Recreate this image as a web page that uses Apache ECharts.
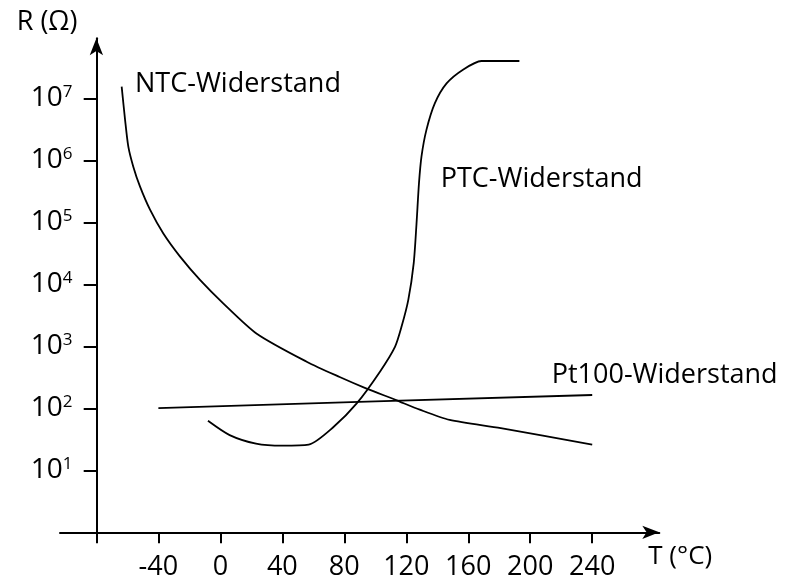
<!DOCTYPE html>
<html>
<head>
<meta charset="utf-8">
<script src="https://cdn.jsdelivr.net/npm/echarts@6.0.0/dist/echarts.min.js"></script>
<style>
html, body { margin: 0; padding: 0; background: #fff; }
#chart { width: 790px; height: 575px; }
</style>
</head>
<body>
<div id="chart"></div>
<script>
// Kennlinien (Temperatur in °C, Widerstand in Ohm)
var ntcT = [-63.7, -61.5, -59.4, -56.2, -51.9, -45.4, -36.8, -26, -13, 2, 23.5, 56, 77, 94, 113, 128.7, 148, 181, 240];
var ntcR = [1.55e7, 4.5e6, 1.66e6, 7.9e5, 3.8e5, 1.6e5, 6.6e4, 2.8e4, 1.17e4, 4900, 1600, 560, 320, 210, 137, 95, 65, 48, 26];
var ptcT = [-8, 6, 23, 40, 57, 73, 88, 103, 112.7, 117, 121.3, 124.8, 126.6, 128.2, 129.8, 133, 138.4, 146, 156.6, 168.5, 193];
var ptcR = [63, 37, 27, 25, 26, 50, 120, 390, 980, 2100, 5600, 22000, 95000, 4.3e5, 1.15e6, 3.1e6, 8.3e6, 1.74e7, 2.9e7, 4.0e7, 4.0e7];
var pt100T = [-40, 100, 240];
var pt100R = [101, 129, 164];

// Achsenbeschriftung
var xTicks = [-80, -40, 0, 40, 80, 120, 160, 200, 240];
var xLabels = [-40, 0, 40, 80, 120, 160, 200, 240];
var yTicks = [10, 100, 1e3, 1e4, 1e5, 1e6, 1e7];
var yLabels = [10, 100, 1e3, 1e4, 1e5, 1e6, 1e7];

function pairs(t, r) {
	var out = [];
	for (var i = 0; i < t.length; i++) {
		out.push([t[i], r[i]]);
	}
	return out;
}

var font = 'Open Sans';
var lineStyle = { color: '#000', width: 1.8 };

var myChart = echarts.init(document.getElementById('chart'));
var option = {
	animation: false,
	backgroundColor: '#fff',
	grid: { left: 60, right: 130.7, top: 38.3, bottom: 42.7, containLabel: false, outerBoundsMode: 'none' },
	xAxis: {
		type: 'value',
		min: -103.5,
		max: 283.3,
		name: 'T (°C)',
		nameLocation: 'end',
		nameGap: -11,
		nameTextStyle: { fontFamily: font, fontSize: 26, color: '#000', align: 'left', verticalAlign: 'top', padding: [11, 0, 0, 0] },
		axisLine: { show: true, onZero: false, symbol: ['none', 'arrow'], symbolSize: [10, 17], lineStyle: { color: '#000', width: 2 } },
		axisTick: { show: true, length: 11, customValues: xTicks, lineStyle: { color: '#000', width: 2 } },
		axisLabel: { customValues: xLabels, margin: 22, fontFamily: font, fontSize: 27, color: '#000' },
		splitLine: { show: false }
	},
	yAxis: {
		type: 'log',
		logBase: 10,
		min: 1,
		max: 9.3e7,
		offset: -36.4,
		name: 'R (Ω)',
		nameLocation: 'end',
		nameGap: 2,
		nameTextStyle: { fontFamily: font, fontSize: 27, color: '#000', align: 'right', verticalAlign: 'bottom', padding: [0, 19, 0, 0] },
		axisLine: { show: true, onZero: false, symbol: ['none', 'arrow'], symbolSize: [10, 17], lineStyle: { color: '#000', width: 2 } },
		axisTick: { show: true, length: 12.7, customValues: yTicks, lineStyle: { color: '#000', width: 2 } },
		axisLabel: {
			customValues: yLabels,
			margin: 24,
			formatter: function (v) {
				return '{b|10}{s|' + Math.round(Math.log10(v)) + '}';
			},
			rich: {
				b: { fontFamily: font, fontSize: 28, color: '#000', lineHeight: 30 },
				s: { fontFamily: font, fontSize: 17, color: '#000', lineHeight: 21, verticalAlign: 'top' }
			}
		},
		splitLine: { show: false }
	},
	graphic: [
		{ type: 'text', x: 135, y: 84, style: { text: 'NTC-Widerstand', font: '27px "Open Sans"', fill: '#000', verticalAlign: 'middle' } },
		{ type: 'text', x: 440.7, y: 179, style: { text: 'PTC-Widerstand', font: '27px "Open Sans"', fill: '#000', verticalAlign: 'middle' } },
		{ type: 'text', x: 551.7, y: 375.5, style: { text: 'Pt100-Widerstand', font: '27px "Open Sans"', fill: '#000', verticalAlign: 'middle' } }
	],
	series: [
		{ name: 'NTC', type: 'line', data: pairs(ntcT, ntcR), showSymbol: false, smooth: 0.25, lineStyle: lineStyle },
		{ name: 'PTC', type: 'line', data: pairs(ptcT, ptcR), showSymbol: false, smooth: 0.25, lineStyle: lineStyle },
		{ name: 'Pt100', type: 'line', data: pairs(pt100T, pt100R), showSymbol: false, lineStyle: lineStyle }
	]
};
myChart.setOption(option);
window.onresize = function () {
	myChart.resize();
};
</script>
</body>
</html>
